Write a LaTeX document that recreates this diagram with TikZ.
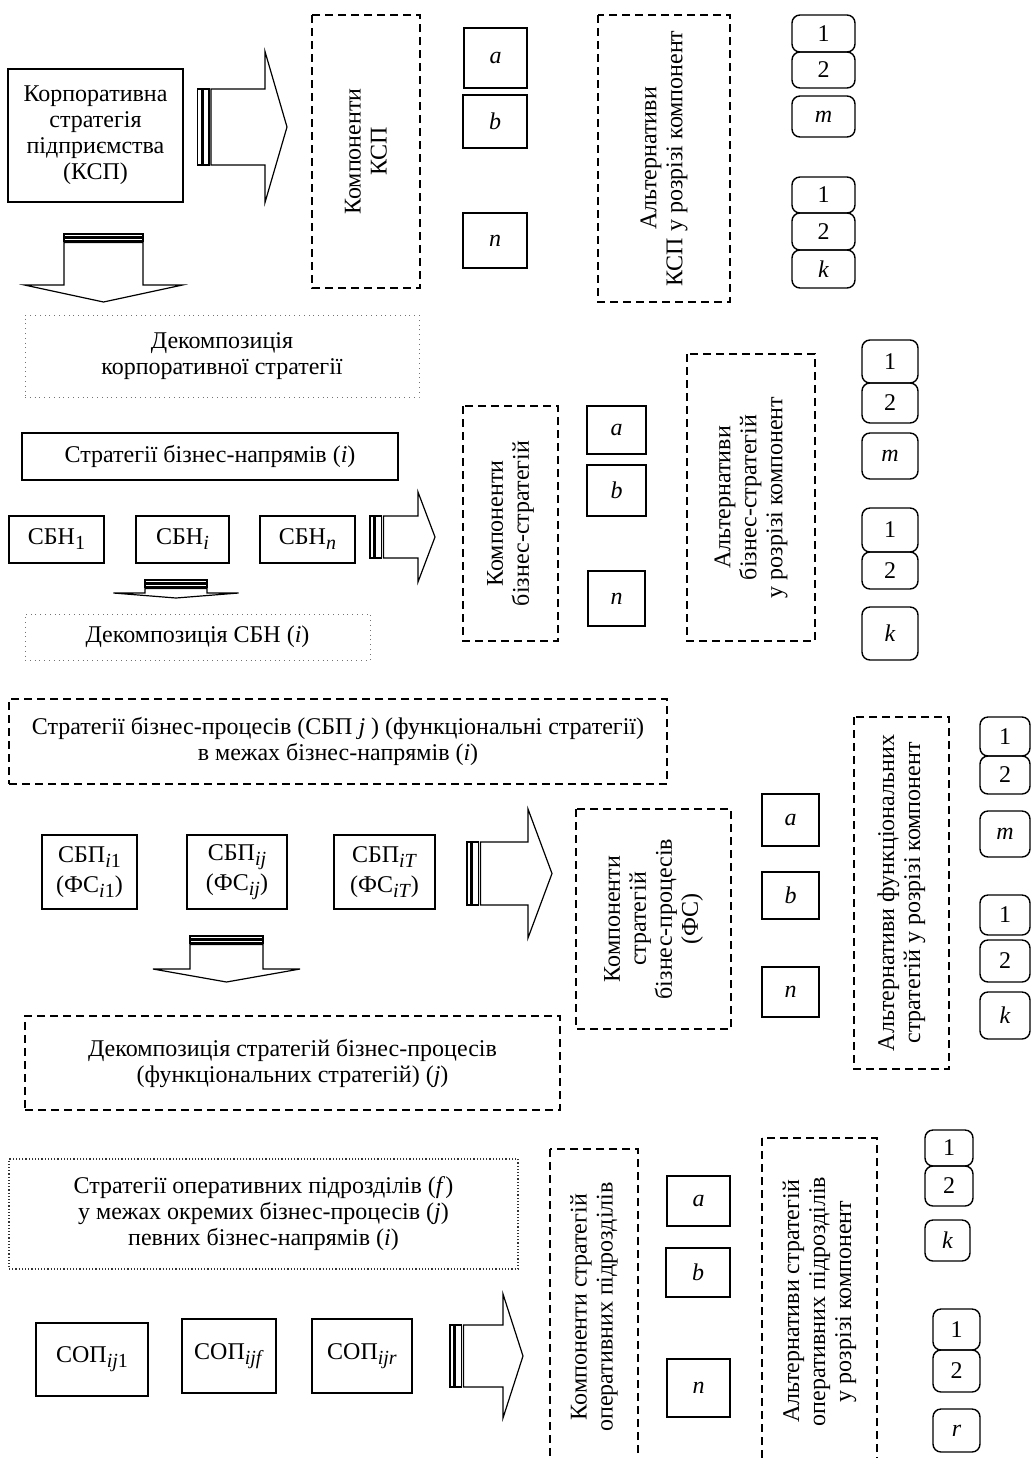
\documentclass[tikz,border=0pt]{standalone}
\usepackage{fontspec}
\setmainfont{Liberation Serif}
\usepackage{tikz}

\newcommand{\idx}[1]{\raisebox{-2.5pt}{\fontsize{10}{10}\selectfont #1}}

\tikzset{
  sbox/.style={draw, line width=0.7pt, inner sep=0pt, align=center},
  dbox/.style={draw, line width=0.9pt, dash pattern=on 4pt off 2.5pt, inner sep=0pt, align=center},
  gbox/.style={draw=black!55, line width=0.4pt, dotted, inner sep=0pt, align=center},
  pbox/.style={draw=black!80, line width=0.6pt, densely dotted, inner sep=0pt, align=center},
  rbox/.style={draw, line width=0.7pt, rounded corners=4pt, inner sep=0pt},
  blockarrow/.style={draw, line width=0.6pt, fill=white},
}

\begin{document}
\begin{tikzpicture}[x=0.5pt, y=-0.5pt, every node/.style={font=\fontsize{12}{13}\selectfont}]
  \useasboundingbox (0,0) rectangle (1031,1458);
  \clip (0,0) rectangle (1031,1458);

  % block arrows to the right / downwards
  \foreach \xa/\yc/\sh/\xe/\hh/\xt in {197.5/127/38/265/75.5/287, 370/537/21/418/45/435,
      467/873.5/31.5/528/64.5/552, 450/1356/31/503/62/523}{
    \draw[blockarrow] (\xa,\yc-\sh) rectangle (\xa+4,\yc+\sh);
    \draw[blockarrow] (\xa+5.5,\yc-\sh) rectangle (\xa+11.5,\yc+\sh);
    \draw[blockarrow] (\xa+13.5,\yc-\sh) -- (\xe,\yc-\sh) -- (\xe,\yc-\hh) -- (\xt,\yc)
      -- (\xe,\yc+\hh) -- (\xe,\yc+\sh) -- (\xa+13.5,\yc+\sh) -- cycle;
  }
  \foreach \xc/\ya/\sh/\ye/\hh/\yt in {103.5/234/39.5/285/79/302, 176/580/31/593/62.5/598,
      226.5/936/36.5/969/73.5/982}{
    \draw[blockarrow] (\xc-\sh,\ya) rectangle (\xc+\sh,\ya+2.5);
    \draw[blockarrow] (\xc-\sh,\ya+4) rectangle (\xc+\sh,\ya+7);
    \draw[blockarrow] (\xc-\sh,\ya+8.5) -- (\xc-\sh,\ye) -- (\xc-\hh,\ye) -- (\xc,\yt)
      -- (\xc+\hh,\ye) -- (\xc+\sh,\ye) -- (\xc+\sh,\ya+8.5) -- cycle;
  }

  % corporate level
  \node[sbox, minimum width=87.5pt, minimum height=66.5pt] (ksp) at (95.5,135.5) {Корпоративна\\стратегія\\підприємства\\(КСП)};
  \node[dbox, rotate=90, minimum width=136.5pt, minimum height=54pt] (kompKSP) at (366,151.5) {Компоненти\\КСП};
  \node[sbox, minimum width=31.5pt, minimum height=30pt] (a1) at (495.5,58) {\textit{a}};
  \node[sbox, minimum width=32pt, minimum height=26.5pt] (b1) at (495,121.5) {\textit{b}};
  \node[sbox, minimum width=32pt, minimum height=27.5pt] (n1) at (495,240.5) {\textit{n}};
  \node[dbox, rotate=90, minimum width=143.5pt, minimum height=66pt] (altKSP) at (664,158.5) {Альтернативи\\КСП у розрізі компонент};
  \node[rbox, minimum width=31.5pt, minimum height=18.5pt] (m11) at (823.5,33.5) {1};
  \node[rbox, minimum width=31.5pt, minimum height=18pt] (m12) at (823.5,70) {2};
  \node[rbox, minimum width=31.5pt, minimum height=20.5pt] (m1m) at (823.5,116.5) {\textit{m}};
  \node[rbox, minimum width=31.5pt, minimum height=18pt] (k11) at (823.5,195) {1};
  \node[rbox, minimum width=31.5pt, minimum height=18.5pt] (k12) at (823.5,231.5) {2};
  \node[rbox, minimum width=31.5pt, minimum height=19pt] (k1k) at (823.5,269) {\textit{k}};
  \node[gbox, minimum width=197pt, minimum height=41pt] (dec1) at (222,356) {Декомпозиція\\корпоративної стратегії};

  % business lines
  \node[sbox, minimum width=188pt, minimum height=23.5pt] (sbn) at (210,456.5) {Стратегії бізнес-напрямів (\textit{i})};
  \node[sbox, minimum width=47.5pt, minimum height=23.5pt] (sbn1) at (56.5,539.5) {СБН\idx{1}};
  \node[sbox, minimum width=46.5pt, minimum height=23.5pt] (sbni) at (182.5,539.5) {СБН\idx{\textit{i}}};
  \node[sbox, minimum width=47.5pt, minimum height=23.5pt] (sbnn) at (307.5,539.5) {СБН\idx{\textit{n}}};
  \node[gbox, minimum width=172.5pt, minimum height=23pt] (dec2) at (197.5,637) {Декомпозиція СБН (\textit{i})};
  \node[dbox, rotate=90, minimum width=117.5pt, minimum height=47.5pt] (kompBS) at (510.5,523.5) {Компоненти\\бізнес-стратегій};
  \node[sbox, minimum width=29.5pt, minimum height=24pt] (a2) at (616.5,430) {\textit{a}};
  \node[sbox, minimum width=29.5pt, minimum height=25.5pt] (b2) at (616.5,490.5) {\textit{b}};
  \node[sbox, minimum width=28.5pt, minimum height=27.5pt] (n2) at (616.5,598.5) {\textit{n}};
  \node[dbox, rotate=90, minimum width=143.5pt, minimum height=64pt] (altBS) at (751,497.5) {Альтернативи\\бізнес-стратегій\\у розрізі компонент};
  \node[rbox, minimum width=28pt, minimum height=21.5pt] (m21) at (890,361.5) {1};
  \node[rbox, minimum width=28pt, minimum height=20pt] (m22) at (890,403) {2};
  \node[rbox, minimum width=28pt, minimum height=23pt] (m2m) at (890,456) {\textit{m}};
  \node[rbox, minimum width=28pt, minimum height=22pt] (k21) at (890,530) {1};
  \node[rbox, minimum width=28pt, minimum height=18.5pt] (k22) at (890,570.5) {2};
  \node[rbox, minimum width=28pt, minimum height=26.5pt] (k2k) at (890,633.5) {\textit{k}};

  % business processes
  \node[dbox, minimum width=329pt, minimum height=42.5pt] (sbp) at (338,741.5) {Стратегії бізнес-процесів (СБП \textit{j} ) (функціональні стратегії)\\в межах бізнес-напрямів (\textit{i})};
  \node[sbox, font=\fontsize{12}{15}\selectfont, minimum width=47.5pt, minimum height=37pt] (sbp1) at (89.5,872) {СБП\idx{\textit{i}1}\\(ФС\idx{\textit{i}1})};
  \node[sbox, font=\fontsize{12}{15}\selectfont, minimum width=50pt, minimum height=37pt] (sbpj) at (237,872) {СБП\idx{\textit{ij}}\\(ФС\idx{\textit{ij}})};
  \node[sbox, font=\fontsize{12}{15}\selectfont, minimum width=50.5pt, minimum height=37pt] (sbpT) at (384.5,872) {СБП\idx{\textit{iT}}\\(ФС\idx{\textit{iT}})};
  \node[dbox, minimum width=267.5pt, minimum height=47pt] (dec3) at (292.5,1063) {Декомпозиція стратегій бізнес-процесів\\(функціональних стратегій) (\textit{j})};
  \node[dbox, rotate=90, minimum width=110pt, minimum height=77.5pt] (kompFS) at (653.5,919) {Компоненти\\стратегій\\бізнес-процесів\\(ФС)};
  \node[sbox, minimum width=28.5pt, minimum height=26pt] (a3) at (790.5,820) {\textit{a}};
  \node[sbox, minimum width=28.5pt, minimum height=23.5pt] (b3) at (790.5,895.5) {\textit{b}};
  \node[sbox, minimum width=28.5pt, minimum height=25pt] (n3) at (790.5,992) {\textit{n}};
  \node[dbox, rotate=90, minimum width=176pt, minimum height=47.5pt] (altFS) at (901.5,893) {Альтернативи функціональних\\стратегій у розрізі компонент};
  \node[rbox, minimum width=25pt, minimum height=19.5pt] (m31) at (1005,736.5) {1};
  \node[rbox, minimum width=25pt, minimum height=19pt] (m32) at (1005,775) {2};
  \node[rbox, minimum width=25pt, minimum height=23pt] (m3m) at (1005,834) {\textit{m}};
  \node[rbox, minimum width=25pt, minimum height=20pt] (k31) at (1005,915) {1};
  \node[rbox, minimum width=25pt, minimum height=21pt] (k32) at (1005,961) {2};
  \node[rbox, minimum width=25pt, minimum height=23.5pt] (k3k) at (1005,1015.5) {\textit{k}};

  % operating units
  \node[pbox, minimum width=254.5pt, minimum height=55pt] (sop) at (263.5,1214) {Стратегії оперативних підрозділів (\textit{f})\\у межах окремих бізнес-процесів (\textit{j})\\певних бізнес-напрямів (\textit{i})};
  \node[sbox, minimum width=56pt, minimum height=36.5pt] (sop1) at (92,1359.5) {СОП\idx{\textit{ij}1}};
  \node[sbox, minimum width=47pt, minimum height=37pt] (sopf) at (229,1356) {СОП\idx{\textit{ijf}}};
  \node[sbox, minimum width=50pt, minimum height=37pt] (sopr) at (362,1356) {СОП\idx{\textit{ijr}}};
  \node[dbox, rotate=90, minimum width=158pt, minimum height=44pt] (kompSOP) at (594,1307) {Компоненти стратегій\\оперативних підрозділів};
  \node[sbox, minimum width=31.5pt, minimum height=25pt] (a4) at (698.5,1201) {\textit{a}};
  \node[sbox, minimum width=32pt, minimum height=24.5pt] (b4) at (698,1272.5) {\textit{b}};
  \node[sbox, minimum width=31.5pt, minimum height=29pt] (n4) at (698.5,1388) {\textit{n}};
  \node[dbox, rotate=90, minimum width=163.5pt, minimum height=57.5pt] (altSOP) at (819.5,1301.5) {Альтернативи стратегій\\оперативних підрозділів\\у розрізі компонент};
  \node[rbox, minimum width=24pt, minimum height=18pt] (k41) at (949,1148) {1};
  \node[rbox, minimum width=24pt, minimum height=20pt] (k42) at (949,1186) {2};
  \node[rbox, minimum width=22.5pt, minimum height=20.5pt] (k4k) at (947.5,1240.5) {\textit{k}};
  \node[rbox, minimum width=23.5pt, minimum height=20.5pt] (r41) at (956.5,1329.5) {1};
  \node[rbox, minimum width=23.5pt, minimum height=21pt] (r42) at (956.5,1371) {2};
  \node[rbox, minimum width=23.5pt, minimum height=21.5pt] (r4r) at (956.5,1430.5) {\textit{r}};
\end{tikzpicture}
\end{document}
